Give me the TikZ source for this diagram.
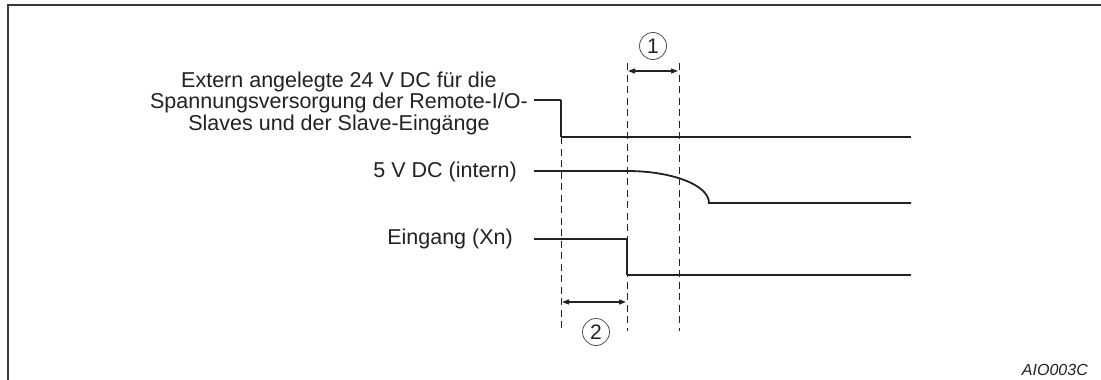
\documentclass[tikz,border=0pt]{standalone}
\usepackage{fontspec}
\setmainfont{Liberation Sans}
\usetikzlibrary{arrows.meta}
\definecolor{ink}{HTML}{222222}
\tikzset{
  lbl/.style={inner sep=0pt, font=\fontsize{21.5}{21.5}\selectfont, text=ink},
  sig/.style={draw=ink, line width=1.8pt},
  stepline/.style={draw=ink, line width=2.6pt},
  guide/.style={draw=ink, line width=1pt, dash pattern=on 7pt off 4.5pt},
  dim/.style={draw=ink, line width=1.2pt, {Triangle[length=7pt,width=5pt]}-{Triangle[length=7pt,width=5pt]}},
  num/.style={circle, draw=ink!80, line width=0.8pt, minimum size=27pt, inner sep=0pt, font=\fontsize{21}{21}\selectfont, text=ink},
  frame/.style={draw=ink!90, line width=1.6pt}
}
\begin{document}
\begin{tikzpicture}[x=1pt,y=-1pt]
\useasboundingbox (0,0) rectangle (1101,380);
% frame
\coordinate (fa) at (8,381);
\coordinate (fb) at (8,5);
\coordinate (fc) at (1102,5);
\draw[frame] (fa) -- (fb) -- (fc);
% labels
\node[lbl, anchor=east, align=center] (l1) at (528,103) {Extern angelegte 24 V DC für die\\Spannungsversorgung der Remote-I/O-\\Slaves und der Slave-Eingänge};
\node[lbl, anchor=east] (l2) at (517,172) {5 V DC (intern)};
\node[lbl, anchor=east] (l3) at (513,239) {Eingang (Xn)};
\node[inner sep=0pt, font=\fontsize{16}{16}\selectfont\itshape, text=ink, anchor=east] (code) at (1088,370) {AIO003C};
% timing coordinates
\coordinate (s1a) at (534,100);
\coordinate (s1b) at (561,100);
\coordinate (s1c) at (561,137);
\coordinate (s1d) at (911,137);
\coordinate (s2a) at (534,171);
\coordinate (s2b) at (627,171);
\coordinate (s2c) at (709,203);
\coordinate (s2d) at (911,203);
\coordinate (s3a) at (534,239);
\coordinate (s3b) at (627,239);
\coordinate (s3c) at (627,275);
\coordinate (s3d) at (911,275);
% guides
\coordinate (g1t) at (561,137);
\coordinate (g1b) at (561,330);
\coordinate (g2t) at (627,63);
\coordinate (g2b) at (627,331);
\coordinate (g3t) at (679,63);
\coordinate (g3b) at (679,331);
\draw[guide] (g1t) -- (g1b);
\draw[guide] (g2t) -- (g2b);
\draw[guide] (g3t) -- (g3b);
% signals
\draw[sig] (s1a) -- (s1b);
\draw[stepline] (s1b) -- (s1c);
\draw[sig] (s1c) -- (s1d);
\draw[sig] (s2a) -- (s2b) .. controls (672,171) and (709,185) .. (s2c) -- (s2d);
\draw[sig] (s3a) -- (s3b);
\draw[stepline] (s3b) -- (s3c);
\draw[sig] (s3c) -- (s3d);
% dimensions
\coordinate (d1a) at (628,71);
\coordinate (d1b) at (678,71);
\coordinate (d2a) at (562,302);
\coordinate (d2b) at (626,302);
\draw[dim] (d1a) -- (d1b);
\draw[dim] (d2a) -- (d2b);
\node[num] (n1) at (653,46) {1};
\node[num] (n2) at (596,332) {2};
\end{tikzpicture}
\end{document}
